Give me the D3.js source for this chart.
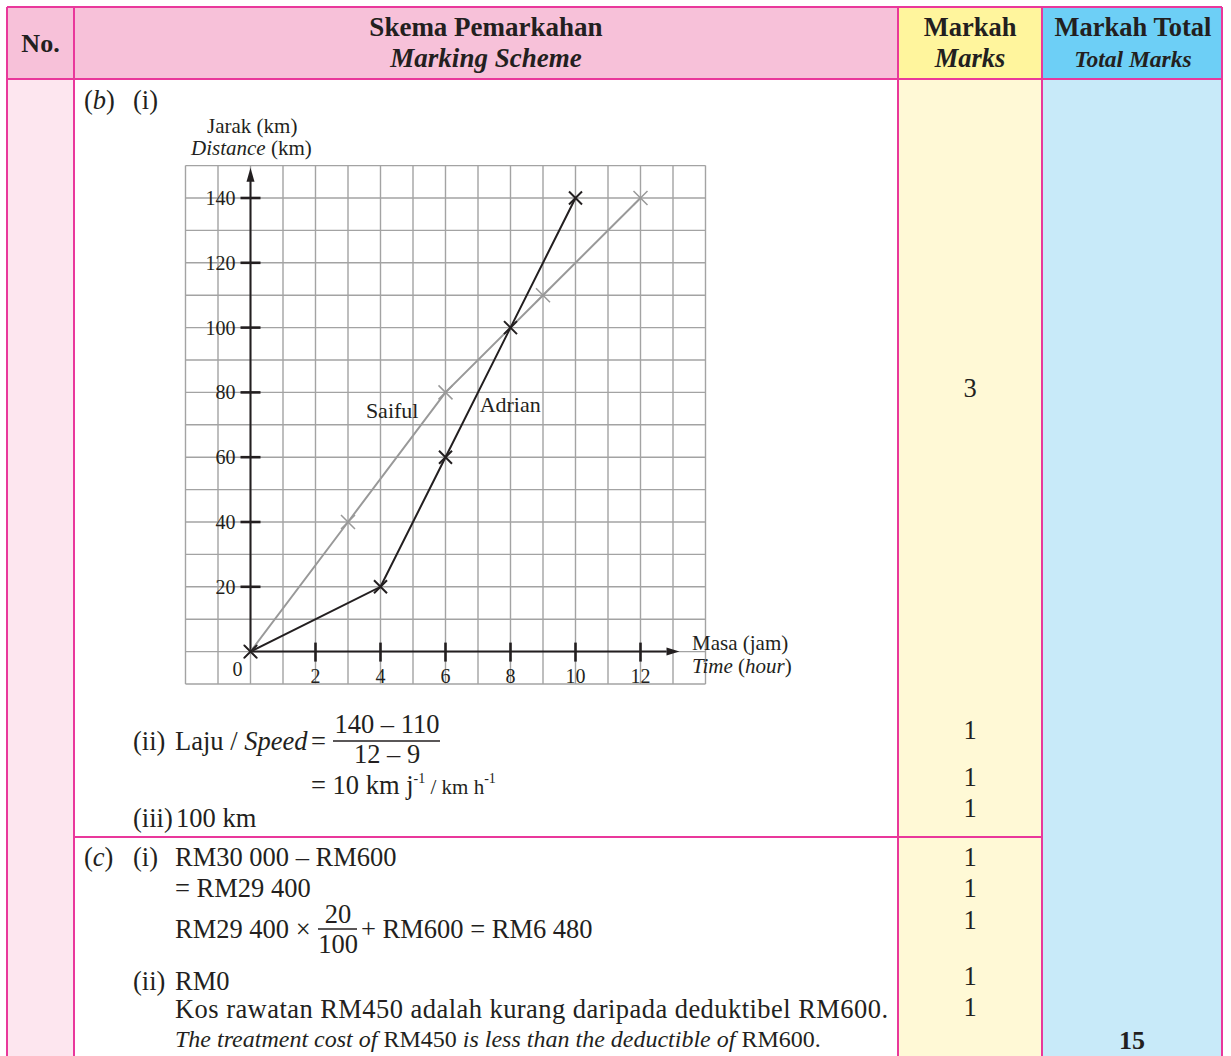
<!DOCTYPE html>
<html>
<head>
<meta charset="utf-8">
<script src="https://cdn.jsdelivr.net/npm/d3@7"></script>
<style>
  body { margin: 0; background: #fff; }
  text { font-family: "Liberation Serif", "Times New Roman", serif; fill: #231f20; }
</style>
</head>
<body>
<script>
// chart data
const adrianTime = [0, 4, 6, 8, 10];
const adrianDistance = [0, 20, 60, 100, 140];
const saifulTime = [0, 3, 6, 9, 12];
const saifulDistance = [0, 40, 80, 110, 140];
const xTicks = [2, 4, 6, 8, 10, 12];
const yTicks = [20, 40, 60, 80, 100, 120, 140];
const marksB = ['3', '1', '1', '1'];
const marksC = ['1', '1', '1', '1', '1'];
const totalMarks = '15';

const width = 1231,
  height = 1056;

const pinkLine = '#e9389b';

const svg = d3
  .select('body')
  .append('svg')
  .attr('width', width)
  .attr('height', height);

// table backgrounds
const cols = { left: 7, no: 74, scheme: 898, marks: 1042, right: 1222 };
const headTop = 7, headBottom = 79, rowSplit = 837;

svg.append('rect').attr('x', cols.left).attr('y', headTop).attr('width', cols.scheme - cols.left).attr('height', headBottom - headTop).attr('fill', '#f7c1d9');
svg.append('rect').attr('x', cols.scheme).attr('y', headTop).attr('width', cols.marks - cols.scheme).attr('height', headBottom - headTop).attr('fill', '#fff59d');
svg.append('rect').attr('x', cols.marks).attr('y', headTop).attr('width', cols.right - cols.marks).attr('height', headBottom - headTop).attr('fill', '#6dcff6');
svg.append('rect').attr('x', cols.left).attr('y', headBottom).attr('width', cols.no - cols.left).attr('height', height - headBottom).attr('fill', '#fde6ef');
svg.append('rect').attr('x', cols.scheme).attr('y', headBottom).attr('width', cols.marks - cols.scheme).attr('height', height - headBottom).attr('fill', '#fff9d6');
svg.append('rect').attr('x', cols.marks).attr('y', headBottom).attr('width', cols.right - cols.marks).attr('height', height - headBottom).attr('fill', '#c8eaf9');

// table lines
const tableLines = [
  [cols.left, headTop, cols.right, headTop],
  [cols.left, headBottom, cols.right, headBottom],
  [cols.no, rowSplit, cols.marks, rowSplit],
  [cols.left, headTop, cols.left, height],
  [cols.no, headTop, cols.no, height],
  [cols.scheme, headTop, cols.scheme, height],
  [cols.marks, headTop, cols.marks, height],
  [cols.right, headTop, cols.right, height]
];
svg.selectAll('.tline')
  .data(tableLines)
  .enter()
  .append('line')
  .attr('class', 'tline')
  .attr('x1', d => d[0]).attr('y1', d => d[1])
  .attr('x2', d => d[2]).attr('y2', d => d[3])
  .style('stroke', pinkLine)
  .style('stroke-width', 2);

// rich text helper: parts = [[string, options], ...]
function rich(x, y, parts, size, anchor) {
  const t = svg.append('text')
    .attr('x', x).attr('y', y)
    .attr('font-size', size)
    .attr('text-anchor', anchor || 'start');
  parts.forEach(p => {
    const o = p[1] || {};
    const s = t.append('tspan').text(p[0]);
    if (o.i) s.attr('font-style', 'italic');
    if (o.b) s.attr('font-weight', 'bold');
    if (o.size) s.attr('font-size', o.size);
    if (o.dy) s.attr('dy', o.dy);
  });
  return t;
}

// header
rich(40.5, 52, [['No.', { b: 1 }]], 26, 'middle');
rich(486, 36, [['Skema Pemarkahan', { b: 1 }]], 27, 'middle');
rich(486, 67, [['Marking Scheme', { b: 1, i: 1 }]], 27, 'middle');
rich(970, 36, [['Markah', { b: 1 }]], 26.5, 'middle');
rich(970, 67, [['Marks', { b: 1, i: 1 }]], 26.5, 'middle');
rich(1133, 36, [['Markah Total', { b: 1 }]], 26.5, 'middle');
rich(1133, 67, [['Total Marks', { b: 1, i: 1 }]], 23.5, 'middle');

// (b)(i)
const fs = 26.5;
rich(84, 109, [['('], ['b', { i: 1 }], [')']], fs);
rich(133, 109, [['(i)']], fs);

// graph
const x = d3.scaleLinear().domain([-2, 14]).range([185.5, 705.5]);
const y = d3.scaleLinear().domain([-10, 150]).range([684, 165.6]);
const g = svg.append('g');

g.selectAll('.vgrid')
  .data(d3.range(-2, 15))
  .enter()
  .append('line')
  .attr('x1', d => x(d)).attr('x2', d => x(d))
  .attr('y1', y(-10)).attr('y2', y(150))
  .style('stroke', '#a3a3a3').style('stroke-width', 1.4);
g.selectAll('.hgrid')
  .data(d3.range(-10, 151, 10))
  .enter()
  .append('line')
  .attr('y1', d => y(d)).attr('y2', d => y(d))
  .attr('x1', x(-2)).attr('x2', x(14))
  .style('stroke', '#a3a3a3').style('stroke-width', 1.4);

// axes
g.append('line').attr('x1', x(0)).attr('x2', x(0)).attr('y1', y(0)).attr('y2', y(147))
  .style('stroke', '#231f20').style('stroke-width', 2);
g.append('path')
  .attr('d', `M${x(0)},${y(149.3)} L${x(0) - 4},${y(145)} L${x(0) + 4},${y(145)} Z`)
  .attr('fill', '#231f20');
g.append('line').attr('x1', x(0)).attr('x2', x(12.8)).attr('y1', y(0)).attr('y2', y(0))
  .style('stroke', '#231f20').style('stroke-width', 2);
g.append('path')
  .attr('d', `M${x(13.2)},${y(0)} L${x(12.8)},${y(0) - 4} L${x(12.8)},${y(0) + 4} Z`)
  .attr('fill', '#231f20');

g.selectAll('.ytick')
  .data(yTicks)
  .enter()
  .append('line')
  .attr('x1', x(0) - 10).attr('x2', x(0) + 10)
  .attr('y1', d => y(d)).attr('y2', d => y(d))
  .style('stroke', '#231f20').style('stroke-width', 2.6);
g.selectAll('.ylab')
  .data(yTicks)
  .enter()
  .append('text')
  .attr('x', x(0) - 15).attr('y', d => y(d) + 7)
  .attr('text-anchor', 'end').attr('font-size', 20)
  .text(d => d);

g.selectAll('.xtick')
  .data(xTicks)
  .enter()
  .append('line')
  .attr('x1', d => x(d)).attr('x2', d => x(d))
  .attr('y1', y(0) - 9).attr('y2', y(0) + 10)
  .style('stroke', '#231f20').style('stroke-width', 2.6);
g.selectAll('.xlab')
  .data(xTicks)
  .enter()
  .append('text')
  .attr('x', d => x(d)).attr('y', y(0) + 31)
  .attr('text-anchor', 'middle').attr('font-size', 20)
  .text(d => d);
g.append('text').attr('x', x(0) - 13).attr('y', y(0) + 24).attr('font-size', 20).attr('text-anchor', 'middle').text('0');

// axis titles
rich(207, 133, [['Jarak (km)']], 21);
rich(191, 155, [['Distance', { i: 1 }], [' (km)']], 21);
rich(692, 650, [['Masa (jam)']], 21);
rich(692, 673, [['Time', { i: 1 }], [' ('], ['hour', { i: 1 }], [')']], 21);

// lines
const line = d3.line().x(d => x(d[0])).y(d => y(d[1]));
const saiful = saifulTime.map((t, i) => [t, saifulDistance[i]]);
const adrian = adrianTime.map((t, i) => [t, adrianDistance[i]]);

g.append('path').datum(saiful).attr('d', line)
  .attr('fill', 'none').style('stroke', '#999999').style('stroke-width', 2);
g.append('path').datum(adrian).attr('d', line)
  .attr('fill', 'none').style('stroke', '#231f20').style('stroke-width', 2);

function crosses(data, cls, r, color, w) {
  g.selectAll('.' + cls)
    .data(data)
    .enter()
    .append('path')
    .attr('class', cls)
    .attr('d', d => {
      const cx = x(d[0]), cy = y(d[1]);
      return `M${cx - r},${cy - r}L${cx + r},${cy + r}M${cx - r},${cy + r}L${cx + r},${cy - r}`;
    })
    .style('stroke', color).style('stroke-width', w).attr('fill', 'none');
}
crosses(saiful, 'sm', 7, '#999999', 1.5);
crosses(adrian, 'am', 6.5, '#231f20', 2);

rich(x(3.55), y(72.2), [['Saiful']], 22);
rich(x(7.05), y(73.8), [['Adrian']], 22);

// (ii), (iii)
rich(133, 750, [['(ii)']], fs);
rich(175, 750, [['Laju / '], ['Speed', { i: 1 }]], fs);
rich(311, 750, [['=']], fs);
rich(387, 733, [['140 – 110']], fs, 'middle');
svg.append('line').attr('x1', 333).attr('x2', 440).attr('y1', 741).attr('y2', 741)
  .style('stroke', '#231f20').style('stroke-width', 1.3);
rich(387, 763, [['12 – 9']], fs, 'middle');
rich(311, 794, [['= 10 km j'], ['-1', { size: 14, dy: -11 }], [' / km h', { size: 21, dy: 11 }], ['-1', { size: 14, dy: -11 }]], fs);
rich(133, 827, [['(iii)']], fs);
rich(176, 827, [['100 km']], fs);

// (c)
rich(84, 866, [['('], ['c', { i: 1 }], [')']], fs);
rich(133, 866, [['(i)']], fs);
rich(175, 866, [['RM30 000 – RM600']], fs);
rich(175, 897, [['= RM29 400']], fs);
rich(175, 938, [['RM29 400 ×']], fs);
rich(338, 923, [['20']], fs, 'middle');
svg.append('line').attr('x1', 318).attr('x2', 357).attr('y1', 929).attr('y2', 929)
  .style('stroke', '#231f20').style('stroke-width', 1.3);
rich(338, 953, [['100']], fs, 'middle');
rich(361, 938, [['+ RM600 = RM6 480']], fs);
rich(133, 990, [['(ii)']], fs);
rich(175, 990, [['RM0']], fs);
rich(175, 1018, [['Kos rawatan RM450 adalah kurang daripada deduktibel RM600.']], fs)
  .attr('textLength', 713).attr('lengthAdjust', 'spacing');
rich(175, 1047, [['The treatment cost of', { i: 1 }], [' RM450 '], ['is less than the deductible of', { i: 1 }], [' RM600.']], 24);

// marks
const markB_y = [397, 739, 786, 817];
const markC_y = [866, 897, 929, 985, 1016];
svg.selectAll('.mb')
  .data(marksB)
  .enter()
  .append('text')
  .attr('x', 970).attr('y', (d, i) => markB_y[i])
  .attr('text-anchor', 'middle').attr('font-size', fs)
  .text(d => d);
svg.selectAll('.mc')
  .data(marksC)
  .enter()
  .append('text')
  .attr('x', 970).attr('y', (d, i) => markC_y[i])
  .attr('text-anchor', 'middle').attr('font-size', fs)
  .text(d => d);
rich(1132, 1049, [[totalMarks, { b: 1 }]], 26, 'middle');
</script>
</body>
</html>
